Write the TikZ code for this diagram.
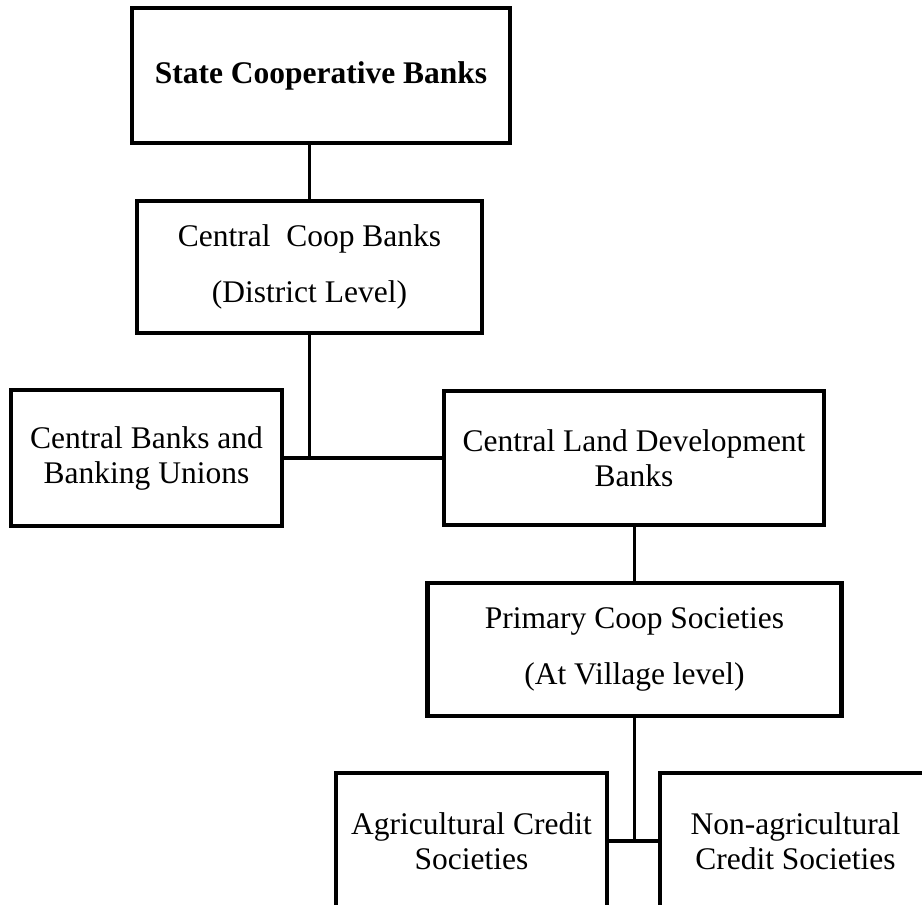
\documentclass[tikz,border=0pt]{standalone}
\usepackage{fontspec}
\setmainfont{Liberation Serif}

\tikzset{
  box/.style={rectangle, draw, line width=4.6pt, inner sep=0pt, align=center,
    font=\fontsize{31.5}{35}\selectfont},
  wide/.style={font=\fontsize{31.5}{56}\selectfont},
  link/.style={line width=3.8pt}
}

\begin{document}
\begin{tikzpicture}[x=1pt,y=-1pt]
  \useasboundingbox (0,0) rectangle (922,905);
  \clip (0,0) rectangle (922,905);

  \node[box, minimum width=378pt, minimum height=135pt] (state) at (321,75.5)
    {\textbf{State Cooperative Banks}};
  \node[box, wide, minimum width=345pt, minimum height=132pt] (coop) at (309.5,267)
    {Central\ \ Coop Banks\\(District Level)};
  \node[box, minimum width=271pt, minimum height=136pt] (cbank) at (146.5,458)
    {Central Banks and\\Banking Unions};
  \node[box, minimum width=380pt, minimum height=134pt] (cland) at (634,458)
    {Central Land Development\\Banks};
  \node[box, wide, minimum width=414pt, minimum height=133pt] (primary) at (634.5,649.5)
    {Primary Coop Societies\\(At Village level)};
  \node[box, minimum width=271pt, minimum height=136pt] (agri) at (471.5,841)
    {Agricultural Credit\\Societies};
  \node[box, minimum width=271pt, minimum height=136pt] (nonagri) at (795.5,841)
    {Non-agricultural\\Credit Societies};

  \coordinate (jn) at (coop.south |- cbank.east);
  \draw[link] (coop.north) -- (coop.north |- state.south);
  \draw[link] (coop.south) -- (jn);
  \draw[link] (cbank.east) -- (cland.west);
  \draw[link] (primary.north) -- (primary.north |- cland.south);
  \draw[link] (primary.south) -- (primary.south |- agri.east);
  \draw[link] (agri.east) -- (nonagri.west);
  %\draw[link] (agri.south) -- (nonagri.south);
\end{tikzpicture}
\end{document}
